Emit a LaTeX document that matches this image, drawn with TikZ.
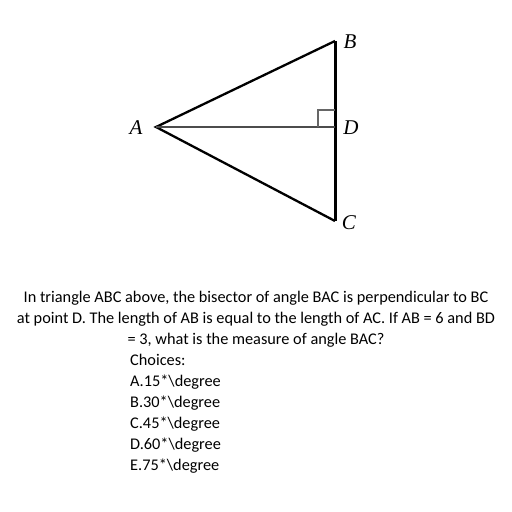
\documentclass[tikz,border=0pt]{standalone}
\usepackage{fontspec}
\setmainfont{Carlito}
\newfontfamily\labfont{Liberation Serif}
\begin{document}
\begin{tikzpicture}[x=1pt,y=-1pt,
  edge/.style={line width=2.3pt,black,line join=miter},
  lab/.style={font=\labfont\itshape\fontsize{21}{21}\selectfont,inner sep=0pt},
  txt/.style={font=\fontsize{16.3}{18}\selectfont,inner sep=0pt,anchor=base},
  choice/.style={font=\fontsize{16.3}{18}\selectfont,inner sep=0pt,anchor=base west}]
\useasboundingbox (0,0) rectangle (512,512);
\coordinate (A) at (156,127);
\coordinate (B) at (335,41);
\coordinate (D) at (335,127);
\coordinate (C) at (335,221);
\draw[edge] (B) -- (A) -- (C);
\draw[line width=3pt] (B) -- (C);
\draw[line width=2.3pt,black!70] (A) -- (D);
\draw[line width=1.1pt,black!60] ([xshift=-17pt]D) -- ++(0,-17) -- ++(17,0);
\node[lab] (la) at (136,128) {A};
\node[lab] (lb) at (350,42) {B};
\node[lab] (ld) at (351,128) {D};
\node[lab] (lc) at (349,223) {C};
\node[txt] (t1) at (256,302) {In triangle ABC above, the bisector of angle BAC is perpendicular to BC};
\node[txt] (t2) at (256,323) {at point D. The length of AB is equal to the length of AC. If AB = 6 and BD};
\node[txt] (t3) at (256,344) {= 3, what is the measure of angle BAC?};
\node[choice] (c0) at (130,365) {Choices:};
\node[choice] (c1) at (130,386) {A.15*\textbackslash degree};
\node[choice] (c2) at (130,407) {B.30*\textbackslash degree};
\node[choice] (c3) at (130,428) {C.45*\textbackslash degree};
\node[choice] (c4) at (130,449) {D.60*\textbackslash degree};
\node[choice] (c5) at (130,470) {E.75*\textbackslash degree};
\end{tikzpicture}
\end{document}
